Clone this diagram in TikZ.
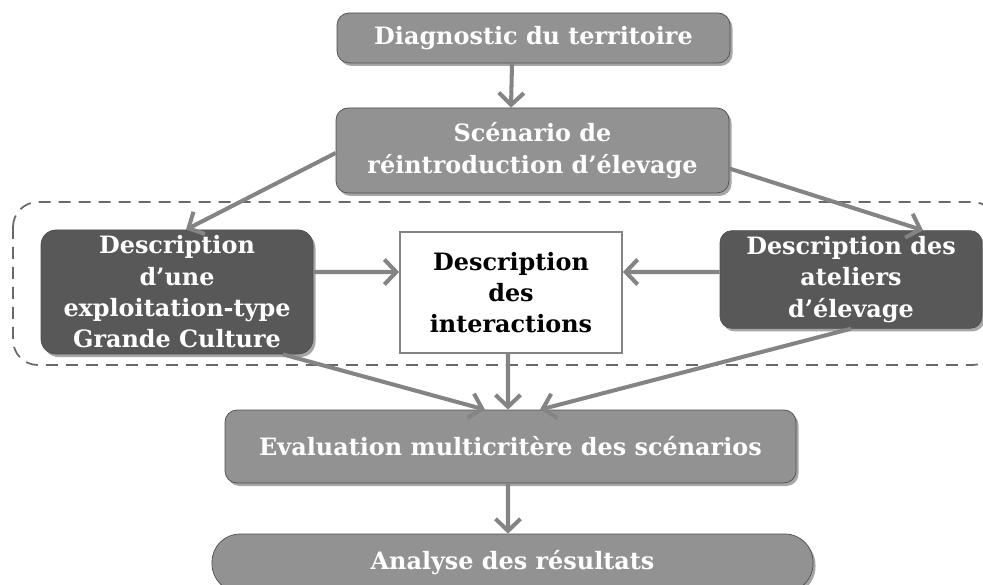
\documentclass[tikz,border=0pt]{standalone}
\usepackage{fontspec}
\setmainfont{DejaVu Serif}
\usetikzlibrary{arrows.meta,shadows}
\definecolor{boxgray}{RGB}{146,146,146}
\definecolor{darkbox}{RGB}{88,88,88}
\definecolor{edgegray}{RGB}{78,78,78}
\definecolor{arrowgray}{RGB}{132,132,132}
\definecolor{framegray}{RGB}{105,105,105}
\tikzstyle{stage}=[shape=rectangle,draw=edgegray,fill=boxgray,rounded corners=0.24cm,
    text=white,align=center,font=\fontsize{13.6}{17.8}\selectfont\bfseries,
    drop shadow={shadow xshift=0.5mm,shadow yshift=-0.6mm,fill=black,opacity=0.35}]
\tikzstyle{darkstage}=[stage,fill=darkbox]
\tikzstyle{plainbox}=[shape=rectangle,draw=arrowgray,line width=1pt,fill=white,
    text=black,align=center,font=\fontsize{13.6}{17.8}\selectfont\bfseries]
\tikzstyle{flow}=[-{Straight Barb[length=2.4mm,width=5mm]},line width=2.3pt,draw=arrowgray]
\tikzstyle{frame}=[draw=framegray,dashed,dash pattern=on 2.4mm off 1.6mm,line width=1pt,rounded corners=0.5cm]

\begin{document}
\begin{tikzpicture}
    \useasboundingbox (0,0) rectangle (19.66,-11.7);

    % groupe des descriptions
    \draw[frame] (0.26,-4.04) rectangle (19.95,-7.3);

    \node[stage,minimum width=7.86cm,minimum height=1.0cm] (diag) at (10.67,-0.76)
        {Diagnostic du territoire};
    \node[stage,minimum width=7.86cm,minimum height=1.7cm] (scen) at (10.65,-3.01)
        {Scénario de\\réintroduction d’élevage};
    \node[darkstage,rounded corners=0.3cm,minimum width=5.44cm,minimum height=2.4cm] (exploit) at (3.54,-5.84)
        {Description\\d’une\\exploitation-type\\Grande Culture};
    \node[plainbox,minimum width=4.44cm,minimum height=2.42cm] (interac) at (10.22,-5.85)
        {Description\\des\\interactions};
    \node[darkstage,minimum width=5.24cm,minimum height=1.9cm] (atel) at (17.02,-5.59)
        {Description des\\ateliers\\d’élevage};
    \node[stage,minimum width=11.42cm,minimum height=1.46cm] (eval) at (10.21,-8.93)
        {Evaluation multicritère des scénarios};
    \node[stage,rounded corners=0.56cm,minimum width=12.02cm,minimum height=1.16cm] (analyse) at (10.25,-11.26)
        {Analyse des résultats};

    \draw[flow] ([xshift=-4.3mm]diag.south) -- ([xshift=-4.3mm]scen.north);
    \draw[flow] ([yshift=-0.5mm]scen.west) -- ([xshift=1.8mm]exploit.north);
    \draw[flow] ([yshift=-3.6mm]scen.east) -- ([xshift=14.4mm]atel.north);
    \draw[flow] ([yshift=4mm]exploit.east) -- ([yshift=4.1mm]interac.west);
    \draw[flow] ([yshift=1.5mm]atel.west) -- ([yshift=4.1mm]interac.east);
    \draw[flow] ([xshift=21.2mm]exploit.south) -- ([xshift=-5.1mm]eval.north);
    \draw[flow] ([xshift=-0.6mm]interac.south) -- ([xshift=-0.5mm]eval.north);
    \draw[flow] (atel.south) -- ([xshift=5.9mm]eval.north);
    \draw[flow] ([xshift=-0.5mm]eval.south) -- ([xshift=-0.9mm]analyse.north);
\end{tikzpicture}
\end{document}
